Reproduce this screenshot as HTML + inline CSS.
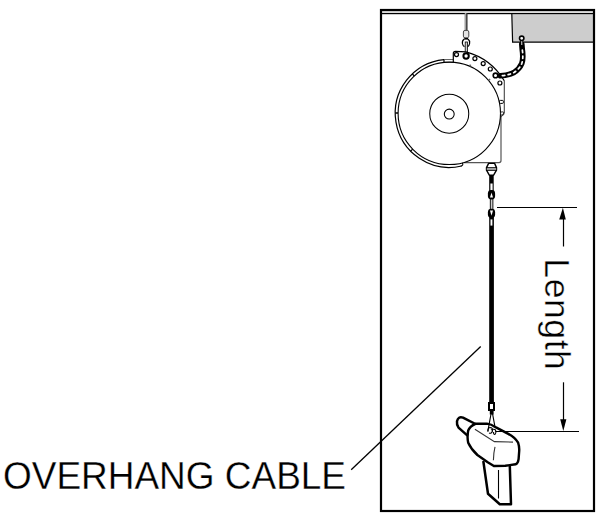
<!DOCTYPE html>
<html><head><meta charset="utf-8">
<style>
html,body{margin:0;padding:0;background:#fff;}
body{width:602px;height:518px;overflow:hidden;position:relative;}
svg{position:absolute;left:0;top:0;}
text{font-family:"Liberation Sans",sans-serif;}
</style></head><body>
<svg width="602" height="518" viewBox="0 0 602 518">
<!-- frame -->
<rect x="381" y="11" width="213" height="2.5" fill="#dcdcdc"/>
<path d="M512 14 L593 14 L593 42 L512.8 42 Z" fill="#cdcdcd"/>
<rect x="512" y="14" width="81" height="1.2" fill="#d8d8d8"/>
<path d="M511.8 13.5 L512.6 42.2 L593 42.2" fill="none" stroke="#000" stroke-width="1.2"/>
<rect x="381" y="13" width="213" height="1.2" fill="#000"/>
<rect x="381" y="10" width="213" height="501" fill="none" stroke="#000" stroke-width="2.2"/>

<!-- hanger -->
<rect x="465" y="13" width="2.2" height="17.5" fill="#bbb"/>
<path d="M466.9 13 L466.9 30.5" stroke="#000" stroke-width="1"/>
<path d="M465 13 L465 30.5" stroke="#777" stroke-width="0.7"/>
<rect x="463.4" y="30.4" width="5.4" height="7.4" rx="1.6" fill="#e4e4e4" stroke="#444" stroke-width="1"/>
<path d="M464.3 39 Q462 40.5 462.4 43.5 Q462.8 45.8 464.5 46.6 M468 39 Q470 40.5 469.6 43.5 Q469.3 45.8 467.5 46.6" fill="none" stroke="#000" stroke-width="1.2"/>
<path d="M464.3 38.8 L468 38.8" stroke="#000" stroke-width="1.6"/>
<rect x="465.2" y="42" width="2.2" height="11" fill="#ccc" stroke="#000" stroke-width="0.8"/>
<!-- reel outer double arc -->
<path d="M444 59.56 A54.05 54.05 0 1 0 461.6 165.98" fill="none" stroke="#000" stroke-width="1.2"/>
<path d="M444 59 L444 62.4" stroke="#000" stroke-width="1.2"/>
<path d="M460.8 166.1 Q464 165.3 462.2 162.9" fill="none" stroke="#000" stroke-width="1.1"/>
<path d="M444 59.5 L453.2 59.5 M444 62.3 L453.2 62.3" stroke="#555" stroke-width="0.9"/>
<!-- housing -->
<path d="M501 116 L501 160.6 Q501 162.6 499 162.6 L464 162.6" fill="none" stroke="#555" stroke-width="1.2"/>
<!-- plate -->
<path d="M453.3 62.5 L453.3 53.5 Q453.3 51.4 455.5 51.4 L466 51.8 A64 64 0 0 1 504.5 80.8 L504.5 112.5 L501 117" fill="#fff" stroke="none"/>
<path d="M453.3 62.5 L453.3 53.5 Q453.3 51.4 455.5 51.4 L466 51.8 A64 64 0 0 1 504.3 80.8" fill="none" stroke="#000" stroke-width="1.2"/>
<path d="M504.3 80.5 L504.3 112.5 L501 117" fill="none" stroke="#444" stroke-width="1.1"/>
<!-- main circle -->
<circle cx="449.3" cy="113.35" r="51.2" fill="none" stroke="#000" stroke-width="1.1"/>
<circle cx="449.25" cy="113.7" r="19.5" fill="none" stroke="#000" stroke-width="1.05"/>
<circle cx="449.25" cy="114.05" r="4.95" fill="none" stroke="#000" stroke-width="1.05"/>
<!-- ticks -->
<path d="M414.3 76 L412.3 73.9 M398.1 113 L395.3 113 M412.7 149.1 L410.6 151.1" stroke="#000" stroke-width="1.3"/>
<path d="M469.8 66.4 L470.6 64.6 M488.5 80.4 L490.1 79.2" stroke="#666" stroke-width="1.6"/>
<!-- plate holes -->
<rect x="499.4" y="100.4" width="4" height="3" rx="1" fill="none" stroke="#000" stroke-width="1"/>
<rect x="500.6" y="111.9" width="3.2" height="3.2" rx="1" fill="none" stroke="#222" stroke-width="1"/>
<g fill="#fff" stroke="#000" stroke-width="1.2">
<circle cx="456.5" cy="54.6" r="2"/>
<circle cx="474.9" cy="58.6" r="2"/>
<circle cx="483.2" cy="63.6" r="2"/>
<circle cx="490.3" cy="69" r="2"/>
<circle cx="499.9" cy="83" r="2"/>
<circle cx="495.5" cy="75.4" r="2.3" stroke-width="1.6"/>
</g>
<g fill="#fff" stroke="#000" stroke-width="2">
<circle cx="466.1" cy="56" r="2.7"/>

</g>

<!-- chain -->
<path d="M521.8 44 L522.2 49 Q523.6 58 521.8 63.5 Q519.5 69 514 72.5 Q508 75.5 500.5 75.8" fill="none" stroke="#000" stroke-width="5.6" stroke-linecap="round"/>
<path d="M522.2 49 Q523.6 58 521.8 63.5 Q519.5 69 514 72.5 Q508 75.5 500.5 75.8" fill="none" stroke="#fff" stroke-width="1.7" stroke-linecap="round" stroke-dasharray="2.4 3.5" stroke-dashoffset="-1"/>
<path d="M521.7 40 L521.8 45" stroke="#000" stroke-width="2.8"/>
<path d="M521.7 40 L521.8 45" stroke="#fff" stroke-width="0.9"/>
<circle cx="521.7" cy="38.3" r="2.2" fill="#fff" stroke="#000" stroke-width="1.6"/>
<!-- swivel -->
<path d="M488.6 163.4 L494.6 163.4 L496.5 167.6 L496.5 170.2 L493.6 175.2 L489.3 175.2 L486.5 170.2 L486.5 167.6 Z" fill="#fff" stroke="#000" stroke-width="1.4" stroke-linejoin="round"/>
<rect x="486.8" y="168.1" width="9.4" height="2" fill="#aaa"/>
<path d="M486.5 167.6 L496.5 167.6 M486.5 170.4 L496.5 170.4" stroke="#000" stroke-width="0.9"/>
<rect x="489.2" y="175.5" width="4.5" height="16" fill="#000"/>
<rect x="490.4" y="183.5" width="2.2" height="7" fill="#fff"/>
<rect x="490.3" y="198.5" width="2.6" height="11.5" fill="#ccc" stroke="#000" stroke-width="0.9"/>
<rect x="487.9" y="190" width="7.2" height="9.4" rx="3.4" fill="#000"/>
<path d="M491.5 192.6 L490 197.6 L493 197.6 Z" fill="#fff"/>
<rect x="487.9" y="208.8" width="7.2" height="9.2" rx="3.4" fill="#000"/>
<path d="M491.5 215.8 L490 210.6 L493 210.6 Z" fill="#fff"/>
<!-- cable -->
<rect x="489.2" y="217" width="4.7" height="186" fill="#000"/>
<rect x="490.5" y="219.4" width="1.9" height="6.2" fill="#fff"/>
<rect x="489" y="403" width="5" height="7" fill="#fff" stroke="#000" stroke-width="2"/>
<rect x="489.8" y="410" width="3.8" height="4.5" fill="#000"/>
<!-- dimension -->
<path d="M497 207.5 L577 207.5" stroke="#000" stroke-width="1.2"/>
<path d="M563.5 218 L563.5 246.5" stroke="#000" stroke-width="1.2"/>
<path d="M562.9 207.8 L559.2 219.4 L565.8 219.4 Z" fill="#000"/>
<path d="M563.5 382.3 L563.5 420" stroke="#000" stroke-width="1.2"/>
<path d="M563.3 431 L560.2 419.3 L566.4 419.3 Z" fill="#000"/>
<text transform="translate(544.5,258.3) rotate(90)" font-size="35.6" letter-spacing="0.55" fill="#000" stroke="#fff" stroke-width="0.4" x="0" y="0">Length</text>

<!-- tool -->
<path d="M475.5 424 L463 417.6 Q458.2 416 457 421.3 Q456.5 425 458.5 427.6 L467.5 435.6" fill="#fff" stroke="#000" stroke-width="2.5" stroke-linejoin="round"/>
<path d="M483.3 461 L488 493.8 L499.8 504.2 L511 504.2 L509.8 465.6" fill="#fff" stroke="#000" stroke-width="2.5" stroke-linejoin="round"/>
<path d="M468.2 430.5 Q470 426 475.5 423.8 L487 423.6 Q491 424 496 427.4 L508.3 433.9 Q515 437.5 518.1 442.7 Q519.5 447 519.2 451 L518.6 459.1 Q518 463.5 515.6 464.3 L505.3 465.8 L493.9 466 L487.7 462.2 L477.4 455 Q471 449 468.2 442.7 Q467.3 438 467.7 435.4 Q467.8 432.5 468.2 430.5 Z" fill="#fff" stroke="#000" stroke-width="2.4" stroke-linejoin="round"/>
<path d="M474.9 429.3 L494.4 441.6 L513 442.1" fill="none" stroke="#333" stroke-width="1.1"/>
<path d="M495 446.8 Q493.5 453 493.4 460.2" fill="none" stroke="#333" stroke-width="1.1"/>
<path d="M498.5 470 L498.5 498.5" stroke="#000" stroke-width="1.1"/>
<path d="M495.6 431.5 L579 431.5" stroke="#000" stroke-width="1.1"/>
<path d="M491 414 L487.8 431.5 M492.6 414 L495 427" stroke="#000" stroke-width="1.15"/>
<path d="M488 431.5 Q487.5 428 490 427.5 Q493 427.5 492.5 431 Q491.5 434 489 433 M491 430 Q494 428.5 495.5 430 Q496.5 433 494.8 434.5 Q493.3 434.5 493.6 432" fill="none" stroke="#000" stroke-width="1.1"/>
<!-- leader and label -->
<path d="M351.2 469.8 L480.7 346.5" stroke="#000" stroke-width="1.3"/>
<text x="3" y="489" font-size="38" fill="#000" stroke="#fff" stroke-width="0.3" textLength="343" lengthAdjust="spacingAndGlyphs">OVERHANG CABLE</text>
</svg>
</body></html>
